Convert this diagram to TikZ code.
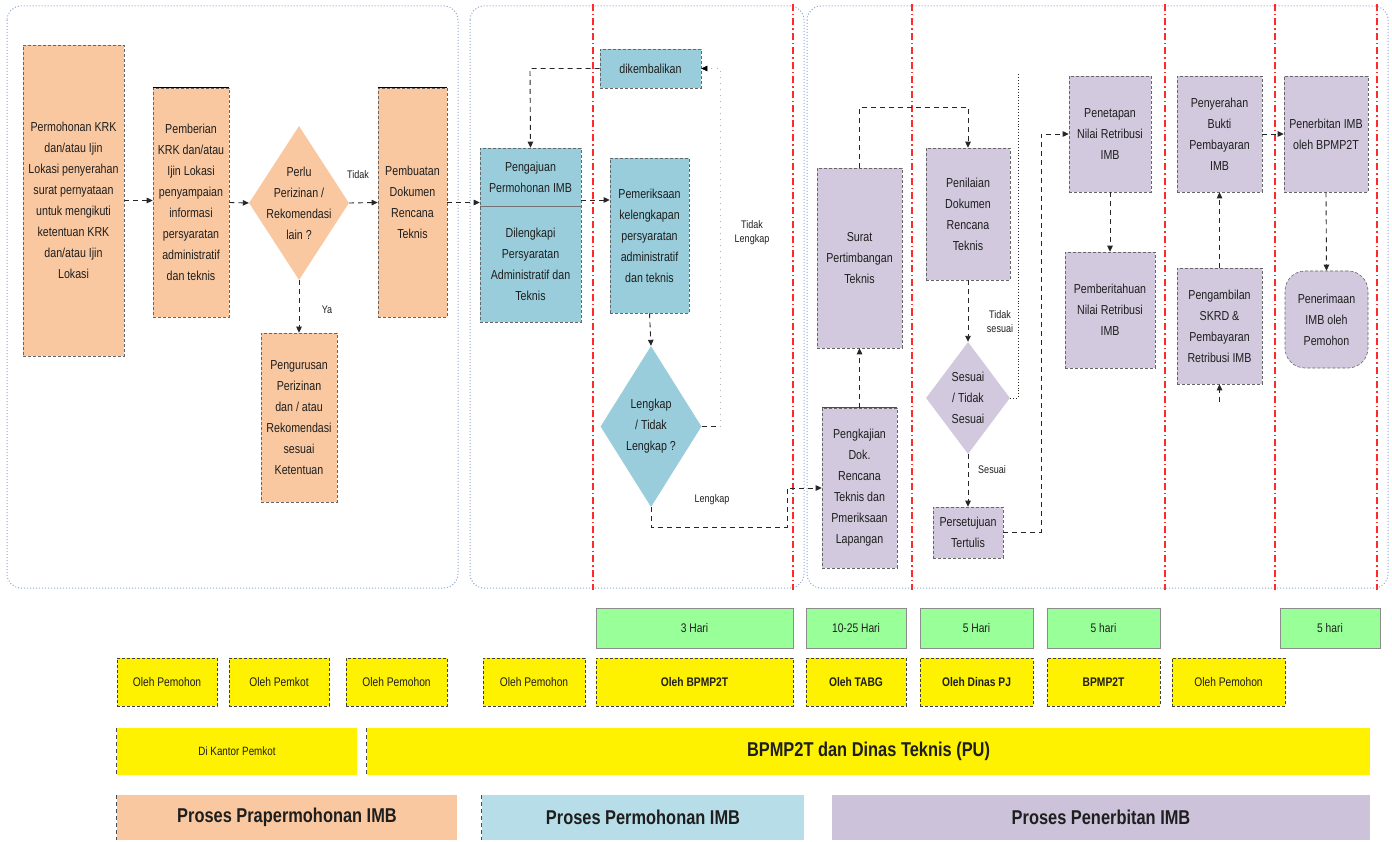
\documentclass[tikz,border=0pt]{standalone}
\usepackage{fontspec}
\setmainfont{Liberation Sans}[FakeStretch=0.82]
\usetikzlibrary{shapes.geometric,arrows.meta}
\definecolor{mypeach}{HTML}{FAC8A0}
\definecolor{myteal}{HTML}{99CDDB}
\definecolor{mylav}{HTML}{D2C9DE}
\definecolor{mylavbar}{HTML}{CCC2DA}
\definecolor{mybluebar}{HTML}{B7DEE8}
\definecolor{mygreen}{HTML}{99FF99}
\definecolor{myred}{HTML}{FF2A2A}
\definecolor{mycont}{HTML}{8FA6D0}
\definecolor{mytext}{HTML}{1E1E1E}
\tikzset{
  container/.style={draw=mycont, line width=1pt, dotted, rounded corners=14pt},
  lane/.style={draw=myred, line width=1.3pt, dash pattern=on 7pt off 3pt on 1.5pt off 3pt},
  box/.style={draw=black!60, line width=0.6pt, dash pattern=on 3pt off 2pt, inner sep=0pt, align=center, text=mytext, font={\fontsize{13}{21}\selectfont}},
  dia/.style={shape=diamond, inner sep=0pt, draw=none},
  txt/.style={inner sep=0pt, align=center, text=mytext, font={\fontsize{13}{21}\selectfont}},
  lbl/.style={inner sep=1pt, align=center, text=mytext, font={\fontsize{11}{14}\selectfont}},
  conn/.style={draw=black!85, line width=0.9pt, dash pattern=on 5pt off 4pt, -{Triangle[length=6pt,width=5.5pt]}},
  faint/.style={draw=black!30, line width=0.6pt, dash pattern=on 1pt off 5pt, -{Triangle[length=6pt,width=5.5pt,fill=black,color=black]}},
  dline/.style={draw=black!85, line width=0.9pt, dotted},
  toprule/.style={draw=black, line width=1.6pt},
  leftdash/.style={draw=black!70, line width=0.8pt, dash pattern=on 4pt off 3pt},
  hari/.style={fill=mygreen, draw=black!45, line width=0.5pt, inner sep=0pt, minimum height=40pt, text=mytext, font={\fontsize{12.5}{15}\selectfont}},
  oleh/.style={fill=yellow, draw=black!75, line width=0.6pt, dash pattern=on 3pt off 2pt, inner sep=0pt, minimum height=48pt, text=mytext, font={\fontsize{12.5}{15}\selectfont}},
  olehb/.style={oleh, font={\fontsize{12.5}{15}\selectfont\bfseries}},
  bar/.style={inner sep=0pt, draw=none, text=mytext, font={\fontsize{20}{24}\selectfont\bfseries}},
}
\begin{document}
\begin{tikzpicture}[x=1pt,y=-1pt]
\useasboundingbox (0,0) rectangle (1392,842);
% containers
\draw[container] (7,6) rectangle (458,588);
\draw[container] (470,6) rectangle (804,588);
\draw[container] (807,6) rectangle (1388,588);
% lane separators
\foreach \lx in {593,793,912,1165,1275,1377} {\draw[lane] (\lx,4) -- (\lx,590);}

% ---- Prapermohonan
\node[box, fill=mypeach, minimum width=101pt, minimum height=311pt] (A) at (73.5,200.5)
  {Permohonan KRK\\dan/atau Ijin\\Lokasi penyerahan\\surat pernyataan\\untuk mengikuti\\ketentuan KRK\\dan/atau Ijin\\Lokasi};
\node[box, fill=mypeach, minimum width=76pt, minimum height=229pt] (B) at (191,202.5)
  {Pemberian\\KRK dan/atau\\Ijin Lokasi\\penyampaian\\informasi\\persyaratan\\administratif\\dan teknis};
\node[dia, fill=mypeach, minimum width=100pt, minimum height=154pt] (C) at (299,203) {};
\node[txt] (Ct) at (C) {Perlu\\Perizinan /\\Rekomendasi\\lain ?};
\node[box, fill=mypeach, minimum width=69pt, minimum height=229pt] (D) at (412.5,202.5)
  {Pembuatan\\Dokumen\\Rencana\\Teknis};
\node[box, fill=mypeach, minimum width=76pt, minimum height=169pt] (E) at (299,417.5)
  {Pengurusan\\Perizinan\\dan / atau\\Rekomendasi\\sesuai\\Ketentuan};
\draw[toprule] (B.north west) -- (B.north east);
\draw[toprule] (D.north west) -- (D.north east);

% ---- Permohonan
\node[box, fill=myteal, minimum width=101pt, minimum height=174pt] (F) at (530.5,235) {};
\draw[black!55, line width=0.8pt] (F.west |- 0,206) -- (F.east |- 0,206);
\node[txt] (Ft) at (530.5,177) {Pengajuan\\Permohonan IMB};
\node[txt] (Fb) at (530.5,264) {Dilengkapi\\Persyaratan\\Administratif dan\\Teknis};
\node[box, fill=myteal, minimum width=101pt, minimum height=39pt] (G) at (650.5,68.5) {dikembalikan};
\node[box, fill=myteal, minimum width=79pt, minimum height=155pt] (H) at (649.5,235.5)
  {Pemeriksaan\\kelengkapan\\persyaratan\\administratif\\dan teknis};
\node[dia, fill=myteal, minimum width=101pt, minimum height=161pt] (I) at (651,426.5) {};
\node[txt] (It) at (I) {Lengkap\\/ Tidak\\Lengkap ?};

% ---- Penerbitan
\node[box, fill=mylav, minimum width=85pt, minimum height=180pt] (J) at (859.5,258)
  {Surat\\Pertimbangan\\Teknis};
\node[box, fill=mylav, minimum width=75pt, minimum height=160pt] (K) at (859.5,488)
  {Pengkajian\\Dok.\\Rencana\\Teknis dan\\Pmeriksaan\\Lapangan};
\draw[draw=black!70, line width=1.2pt] (K.north west) -- (K.north east);
\node[box, fill=mylav, minimum width=84pt, minimum height=132pt] (L) at (968,214)
  {Penilaian\\Dokumen\\Rencana\\Teknis};
\node[dia, fill=mylav, minimum width=84pt, minimum height=112pt] (M) at (968,398) {};
\node[txt] (Mt) at (M) {Sesuai\\/ Tidak\\Sesuai};
\node[box, fill=mylav, minimum width=70pt, minimum height=51pt] (N) at (968,532.5)
  {Persetujuan\\Tertulis};
\node[box, fill=mylav, minimum width=82pt, minimum height=116pt] (O) at (1110,134)
  {Penetapan\\Nilai Retribusi\\IMB};
\node[box, fill=mylav, minimum width=90pt, minimum height=116pt] (P) at (1110,310)
  {Pemberitahuan\\Nilai Retribusi\\IMB};
\node[box, fill=mylav, minimum width=85pt, minimum height=116pt] (Q) at (1219.5,134)
  {Penyerahan\\Bukti\\Pembayaran\\IMB};
\node[box, fill=mylav, minimum width=85pt, minimum height=116pt] (R) at (1219.5,326)
  {Pengambilan\\SKRD \&\\Pembayaran\\Retribusi IMB};
\node[box, fill=mylav, minimum width=84pt, minimum height=116pt] (S) at (1326,134)
  {Penerbitan IMB\\oleh BPMP2T};
\node[box, fill=mylav, minimum width=83pt, minimum height=97pt, rounded corners=20pt] (T) at (1326.5,319.5)
  {Penerimaan\\IMB oleh\\Pemohon};

% ---- connectors
\draw[conn] (A.east) -- (A.east -| B.west);
\draw[conn] (B.east) -- (C.west);
\draw[conn] (C.east) -- (D.west);
\draw[conn] (D.east) -- (D.east -| F.west);
\draw[conn] (C.south) -- (E.north);
\draw[conn] ([yshift=35pt]F.east) -- ([yshift=35pt]F.east -| H.west);
\draw[conn] (H.south) -- (I.north);
\coordinate (tl1) at (720,426.5);
\coordinate (tl2) at (720,68.5);
\draw[conn, -] (I.east) -- (tl1);
\draw[faint] (tl1) -- (tl2) -- (G.east);
\coordinate (kb) at (530,68.5);
\draw[conn] (G.west) -- (kb) -- (F.north);
\coordinate (lk1) at (651,527);
\coordinate (lk2) at (787,527);
\coordinate (lk3) at (787,488);
\draw[conn] (I.south) -- (lk1) -- (lk2) -- (lk3) -- (K.west);
\draw[conn] (K.north) -- (J.south);
\coordinate (jl1) at (859.5,107);
\coordinate (jl2) at (968,107);
\draw[conn] (J.north) -- (jl1) -- (jl2) -- (L.north);
\draw[conn] (L.south) -- (M.north);
\coordinate (ts1) at (1018,398);
\coordinate (ts2) at (1018,73);
\draw[dline] (M.east) -- (ts1) -- (ts2);
\draw[conn] (M.south) -- (N.north);
\coordinate (np1) at (1041,532.5);
\coordinate (np2) at (1041,134);
\draw[conn] (N.east) -- (np1) -- (np2) -- (O.west);
\draw[conn] (O.south) -- (P.north);
\draw[conn] (R.north) -- (Q.south);
\coordinate (rb) at (1219.5,402);
\draw[conn] (rb) -- (R.south);
\draw[conn] (Q.east) -- (S.west);
\draw[conn] (S.south) -- (T.north);

% ---- labels
\node[lbl] (l1) at (358,175) {Tidak};
\node[lbl] (l2) at (327,310) {Ya};
\node[lbl] (l3) at (752,233) {Tidak\\Lengkap};
\node[lbl] (l4) at (712,500) {Lengkap};
\node[lbl] (l5) at (1000,322) {Tidak\\sesuai};
\node[lbl] (l6) at (992,470) {Sesuai};

% ---- bottom rows
\node[hari, minimum width=197pt] (g1) at (694.5,628) {3 Hari};
\node[hari, minimum width=100pt] (g2) at (856,628) {10-25 Hari};
\node[hari, minimum width=113pt] (g3) at (976.5,628) {5 Hari};
\node[hari, minimum width=113pt] (g4) at (1103.5,628) {5 hari};
\node[hari, minimum width=100pt] (g5) at (1330,628) {5 hari};

\node[oleh, minimum width=100pt] (y1) at (167,682) {Oleh Pemohon};
\node[oleh, minimum width=100pt] (y2) at (279,682) {Oleh Pemkot};
\node[oleh, minimum width=101pt] (y3) at (396.5,682) {Oleh Pemohon};
\node[oleh, minimum width=102pt] (y4) at (534,682) {Oleh Pemohon};
\node[olehb, minimum width=197pt] (y5) at (694.5,682) {Oleh BPMP2T};
\node[olehb, minimum width=100pt] (y6) at (856,682) {Oleh TABG};
\node[olehb, minimum width=113pt] (y7) at (976.5,682) {Oleh Dinas PJ};
\node[olehb, minimum width=113pt] (y8) at (1103.5,682) {BPMP2T};
\node[oleh, minimum width=113pt] (y9) at (1228.5,682) {Oleh Pemohon};

\node[fill=yellow, inner sep=0pt, minimum width=240pt, minimum height=47pt, text=mytext, font={\fontsize{12}{14}\selectfont}] (k1) at (237,751.5) {Di Kantor Pemkot};
\node[bar, fill=yellow, minimum width=1003pt, minimum height=47pt] (k2) at (868.5,751.5) {BPMP2T dan Dinas Teknis (PU)};
\draw[leftdash] (k1.north west) -- (k1.south west);
\draw[leftdash] (k2.north west) -- (k2.south west);

\node[bar, fill=mypeach, minimum width=340pt, minimum height=45pt] (p1) at (287,817.5) {Proses Prapermohonan IMB};
\node[bar, fill=mybluebar, minimum width=322pt, minimum height=45pt] (p2) at (643,817.5) {Proses Permohonan IMB};
\node[bar, fill=mylavbar, minimum width=538pt, minimum height=45pt] (p3) at (1101,817.5) {Proses Penerbitan IMB};
\draw[leftdash] (p1.north west) -- (p1.south west);
\draw[leftdash] (p2.north west) -- (p2.south west);
\end{tikzpicture}
\end{document}
